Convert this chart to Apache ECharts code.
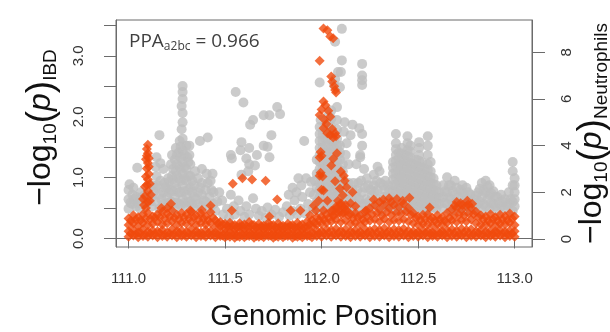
<!DOCTYPE html>
<html>
<head>
<meta charset="utf-8">
<script src="https://cdn.jsdelivr.net/npm/echarts@6/dist/echarts.min.js"></script>
<style>
  html, body { margin: 0; padding: 0; background: #fff; }
  #chart { width: 610px; height: 332px; }
</style>
</head>
<body>
<div id="chart"></div>
<script>
// tick labels
const xTicks = [111.0, 111.5, 112.0, 112.5, 113.0];
const ibdTicks = [0, 0.5, 1, 1.5, 2, 2.5, 3, 3.5];
const ibdLabels = [0, 1, 2, 3];
const neutTicks = [0, 2, 4, 6, 8];

// IBD (orange diamonds): dense band of low values, read column by column
const bandPos = [
  111.000,111.025,111.050,111.075,111.100,111.125,111.150,111.175,111.200,111.225,
  111.250,111.275,111.300,111.325,111.350,111.375,111.400,111.425,111.450,111.475,
  111.500,111.525,111.550,111.575,111.600,111.625,111.650,111.675,111.700,111.725,
  111.750,111.775,111.800,111.825,111.850,111.875,111.900,111.925,111.950,111.975,
  112.000,112.025,112.050,112.075,112.100,112.125,112.150,112.175,112.200,112.225,
  112.250,112.275,112.300,112.325,112.350,112.375,112.400,112.425,112.450,112.475,
  112.500,112.525,112.550,112.575,112.600,112.625,112.650,112.675,112.700,112.725,
  112.750,112.775,112.800,112.825,112.850,112.875,112.900,112.925,112.950,112.975,
  113.000
];
const ibdBandLow = [
  0.03,0.05,0.02,0.04,0.03,0.05,0.02,0.04,0.03,0.05,0.02,0.04,0.03,0.05,0.02,0.04,0.03,0.05,0.02,0.04,
  0.02,0.03,0.01,0.03,0.02,0.04,0.01,0.03,0.02,0.04,0.01,0.03,0.02,0.04,0.01,0.03,0.02,0.04,0.02,0.04,
  0.03,0.05,0.03,0.05,0.03,0.04,0.02,0.04,0.03,0.05,0.02,0.04,0.03,0.05,0.02,0.04,0.03,0.05,0.02,0.04,
  0.03,0.05,0.02,0.04,0.03,0.05,0.02,0.04,0.03,0.05,0.02,0.04,0.03,0.05,0.02,0.04,0.03,0.05,0.02,0.04,
  0.03
];
const ibdBandMid = [
  0.12,0.14,0.10,0.15,0.11,0.13,0.12,0.14,0.10,0.15,0.12,0.13,0.11,0.15,0.12,0.10,0.14,0.12,0.10,0.11,
  0.09,0.10,0.08,0.11,0.09,0.10,0.08,0.10,0.09,0.11,0.08,0.10,0.09,0.11,0.08,0.10,0.09,0.12,0.10,0.13,
  0.12,0.15,0.14,0.16,0.13,0.15,0.12,0.14,0.11,0.15,0.13,0.16,0.14,0.17,0.13,0.15,0.14,0.16,0.13,0.12,
  0.11,0.14,0.12,0.10,0.13,0.12,0.14,0.15,0.13,0.16,0.14,0.15,0.12,0.14,0.11,0.13,0.12,0.14,0.11,0.13,
  0.12
];
const ibdBandUpper = [
  0.22,0.25,0.20,0.26,0.22,0.24,0.27,0.23,0.25,0.28,0.22,0.26,0.24,0.27,0.22,0.25,0.23,0.26,0.19,0.20,
  0.16,0.18,0.15,0.19,0.16,0.18,0.15,0.17,0.16,0.19,0.14,0.17,0.15,0.18,0.16,0.17,0.15,0.19,0.20,0.23,
  0.24,0.26,0.28,0.30,0.27,0.29,0.24,0.26,0.23,0.27,0.29,0.31,0.28,0.32,0.27,0.30,0.29,0.31,0.28,0.25,
  0.22,0.24,0.23,0.21,0.24,0.22,0.26,0.29,0.27,0.30,0.28,0.31,0.25,0.23,0.22,0.25,0.21,0.24,0.23,0.26,
  0.22
];
const ibdBandTop = [
  0.33,0.38,0.35,0.40,0.42,0.36,0.40,0.44,0.41,0.46,0.39,0.42,0.40,0.44,0.38,0.41,0.37,0.43,0.30,0.27,
  0.24,0.26,0.22,0.25,0.23,0.27,0.22,0.24,0.21,0.26,0.22,0.25,0.21,0.24,0.22,0.26,0.23,0.28,0.30,0.35,
  0.36,0.40,0.45,0.52,0.55,0.48,0.40,0.42,0.38,0.44,0.50,0.55,0.48,0.56,0.50,0.55,0.52,0.57,0.50,0.42,
  0.36,0.39,0.40,0.34,0.38,0.35,0.42,0.48,0.50,0.47,0.53,0.50,0.44,0.38,0.36,0.40,0.35,0.39,0.37,0.41,
  0.36
];
// second, offset set of band columns
const bandPos2 = [
  111.0125,111.0375,111.0625,111.0875,111.1125,111.1375,111.1625,111.1875,111.2125,111.2375,
  111.2625,111.2875,111.3125,111.3375,111.3625,111.3875,111.4125,111.4375,111.4625,111.4875,
  111.5125,111.5375,111.5625,111.5875,111.6125,111.6375,111.6625,111.6875,111.7125,111.7375,
  111.7625,111.7875,111.8125,111.8375,111.8625,111.8875,111.9125,111.9375,111.9625,111.9875,
  112.0125,112.0375,112.0625,112.0875,112.1125,112.1375,112.1625,112.1875,112.2125,112.2375,
  112.2625,112.2875,112.3125,112.3375,112.3625,112.3875,112.4125,112.4375,112.4625,112.4875,
  112.5125,112.5375,112.5625,112.5875,112.6125,112.6375,112.6625,112.6875,112.7125,112.7375,
  112.7625,112.7875,112.8125,112.8375,112.8625,112.8875,112.9125,112.9375,112.9625,112.9875
];
const ibdFillLow = [
  0.08,0.07,0.09,0.06,0.08,0.07,0.09,0.06,0.08,0.07,0.09,0.06,0.08,0.07,0.09,0.06,0.08,0.07,0.06,0.05,
  0.05,0.06,0.04,0.06,0.05,0.06,0.04,0.05,0.06,0.05,0.04,0.06,0.05,0.06,0.04,0.05,0.06,0.05,0.07,0.08,
  0.08,0.09,0.07,0.09,0.08,0.07,0.09,0.08,0.07,0.09,0.08,0.09,0.07,0.09,0.08,0.07,0.09,0.08,0.07,0.08,
  0.07,0.09,0.08,0.06,0.08,0.07,0.09,0.08,0.07,0.09,0.08,0.07,0.09,0.06,0.08,0.07,0.09,0.08,0.07,0.08
];
const ibdFillHigh = [
  0.29,0.31,0.30,0.33,0.32,0.34,0.35,0.33,0.36,0.34,0.32,0.34,0.33,0.35,0.31,0.33,0.30,0.34,0.25,0.23,
  0.20,0.21,0.19,0.21,0.20,0.22,0.18,0.20,0.19,0.21,0.18,0.20,0.19,0.21,0.18,0.21,0.19,0.23,0.26,0.30,
  0.31,0.34,0.37,0.41,0.42,0.38,0.33,0.35,0.31,0.36,0.40,0.42,0.38,0.43,0.39,0.42,0.41,0.44,0.39,0.34,
  0.30,0.32,0.31,0.29,0.31,0.29,0.34,0.38,0.39,0.38,0.41,0.40,0.35,0.31,0.29,0.32,0.29,0.31,0.30,0.33
];
// IBD higher points
const ibdSpikes = [
  [111.09,0.5],[111.1,0.6],[111.085,0.7],[111.1,0.78],[111.095,0.88],[111.1,0.97],[111.105,1.06],
  [111.095,1.15],[111.1,1.24],[111.105,1.32],[111.1,1.4],[111.095,1.47],[111.1,1.54],[111.08,0.55],
  [111.11,0.62],[111.075,0.65],[111.115,0.72],[111.085,0.85],[111.11,0.9],[111.09,1.02],[111.105,1.18],
  [111.09,1.3],[111.095,1.36],
  [111.22,0.57],[111.2,0.5],[111.32,0.46],[111.425,0.54],[111.38,0.47],[111.17,0.5],
  [111.54,0.9],[111.59,0.99],[111.64,0.97],[111.71,0.95],[111.77,0.64],[111.535,0.46],[111.73,0.36],
  [111.84,0.46],[111.89,0.46],[111.94,0.38],[111.97,0.46],
  [112.01,3.45],[112.03,3.42],[112.045,3.32],[112.06,3.29],[111.99,2.92],
  [112.05,2.66],[112.055,2.58],[112.065,2.5],[112.07,2.44],[112.075,2.4],
  [112.01,2.25],[112.02,2.19],[112.035,2.1],[112.045,2.0],[111.99,2.03],[112.0,2.12],[112.015,1.95],
  [112.025,1.88],[112.01,1.81],[112.03,1.73],[112.045,1.7],[112.06,1.66],[112.07,1.73],[112.075,1.68],
  [112.055,1.8],[112.08,1.4],[112.0,1.36],[112.05,1.2],[111.99,1.03],[112.1,1.1],[112.115,1.03],
  [112.07,0.94],[112.01,0.79],[112.095,0.82],[112.11,0.71],[112.15,0.58],[112.01,0.46],[112.06,0.46],
  [112.03,0.62],[111.96,0.54],[112.06,1.31],[112.12,0.95],[112.13,0.84],[112.16,0.76],[112.005,1.02],
  [112.0,0.8],[111.985,0.62],[111.995,1.42],[111.99,1.33],[111.995,1.08],
  [112.085,0.62],[112.1,0.58],[112.115,0.5],[112.09,0.45],[112.105,0.4],[112.125,0.55],[112.13,0.45],
  [112.08,0.5],[112.06,0.38],
  [112.27,0.64],[112.32,0.64],[112.39,0.65],[112.455,0.67],[112.56,0.51],[112.23,0.46],[112.175,0.53],
  [112.3,0.6],[112.36,0.6],[112.42,0.62],[112.35,0.66],
  [112.69,0.54],[112.755,0.62],[112.78,0.57],[112.73,0.55],[112.72,0.58],[112.76,0.56],[112.7,0.6]
];

// Neutrophils (grey circles), by region along the chromosome
const neutLeft = [
  [111.0,1.3],[111.0,1.7],[111.0,2.1],[111.005,2.35],[111.02,1.5],[111.02,1.9],[111.025,2.2],
  [111.04,1.4],[111.04,1.8],[111.045,3.05],[111.06,1.3],[111.06,1.65],[111.065,2.0],[111.08,1.5],
  [111.085,1.9],[111.12,1.4],[111.12,1.8],[111.125,2.3],[111.14,1.6],[111.14,2.2],[111.145,2.7],
  [111.14,3.1],[111.145,3.5],[111.16,1.3],[111.16,1.9],[111.165,2.5],[111.165,3.25],[111.16,4.45],
  [111.18,1.5],[111.18,2.0],[111.185,2.4],[111.18,3.0],[111.2,1.4],[111.2,1.8],[111.2,2.2],[111.205,2.6],
  [111.22,1.6],[111.22,2.1],[111.225,2.7],[111.22,3.2],[111.225,3.6],[111.24,1.3],[111.24,1.8],
  [111.24,2.4],[111.245,2.9],[111.24,3.4],[111.245,3.9],[111.26,1.5],[111.26,2.0],[111.26,2.6],
  [111.265,3.1],[111.26,3.7],[111.265,4.2],[111.28,1.7],[111.28,2.3],[111.28,2.8],[111.28,3.3],
  [111.28,3.8],[111.28,4.3],[111.275,4.7],[111.28,5.0],[111.28,5.4],[111.275,5.7],[111.28,6.0],
  [111.28,6.3],[111.28,6.55],[111.3,1.4],[111.3,1.9],[111.3,2.5],[111.3,3.0],[111.305,3.5],[111.3,4.0],
  [111.32,1.6],[111.32,2.2],[111.32,2.7],[111.32,3.2],[111.315,3.6],[111.315,4.0],[111.34,1.3],
  [111.34,1.8],[111.34,2.3],[111.345,2.9],[111.36,1.5],[111.36,2.0],[111.36,2.6],[111.37,4.2],
  [111.38,1.4],[111.38,1.9],[111.38,2.4],[111.38,3.0],[111.4,1.6],[111.4,2.1],[111.405,2.8],
  [111.41,4.35],[111.42,1.3],[111.42,1.8],[111.425,2.5],[111.44,1.5],[111.44,2.0],[111.435,2.8],
  [111.21,1.55],[111.21,2.0],[111.21,2.45],[111.23,1.55],[111.23,2.05],[111.23,2.55],[111.23,3.0],
  [111.25,1.55],[111.25,2.15],[111.25,2.7],[111.25,3.2],[111.25,3.6],[111.27,1.45],[111.27,2.0],
  [111.27,2.5],[111.27,3.0],[111.27,3.5],[111.27,3.95],[111.29,1.55],[111.29,2.05],[111.29,2.6],
  [111.29,3.1],[111.29,3.6],[111.31,1.6],[111.31,2.1],[111.31,2.7],[111.31,3.3],[111.33,1.5],
  [111.33,2.0],[111.33,2.5],[111.01,1.55],[111.03,1.7],[111.05,1.55],[111.07,1.8],[111.11,1.6],
  [111.13,2.0],[111.15,2.3],[111.17,1.7],[111.19,2.2],[111.35,1.7],[111.37,2.2],[111.39,1.65],
  [111.41,2.4],[111.43,2.1]
];
const neutMid = [
  [111.45,1.2],[111.46,1.6],[111.47,2.0],[111.485,1.65],[111.49,1.05],[111.51,1.3],[111.52,0.9],
  [111.53,1.9],[111.545,1.4],[111.55,1.05],[111.57,1.65],[111.58,1.2],[111.6,0.95],[111.61,1.4],
  [111.625,1.05],[111.645,1.75],[111.66,1.3],[111.675,1.0],[111.69,1.2],[111.71,0.9],[111.72,1.35],
  [111.74,1.05],[111.76,1.25],[111.78,0.95],[111.8,1.15],[111.82,1.4],[111.835,1.0],[111.85,1.2],
  [111.86,1.65],[111.875,1.05],[111.89,1.3],[111.9,1.8],[111.915,1.1],[111.93,1.5],[111.94,2.0],
  [111.955,1.3],[111.83,1.9],[111.85,2.2],[111.87,2.0],
  [111.53,3.6],[111.535,3.45],[111.555,6.3],[111.595,5.85],[111.585,4.15],[111.58,3.8],[111.61,3.45],
  [111.625,3.9],[111.625,3.2],[111.655,3.15],[111.62,2.9],[111.585,2.75],[111.665,3.6],[111.63,4.9],
  [111.645,5.1],[111.7,5.3],[111.73,5.3],[111.77,5.65],[111.785,5.35],[111.74,4.45],[111.7,4.0],
  [111.72,3.95],[111.73,3.5],[111.88,2.6],[111.92,2.6],[111.91,4.2],[111.895,2.3],[111.945,2.45]
];
const neutPeak = [
  [111.96,1.3],[111.96,1.9],[111.965,2.5],[111.975,1.6],[111.975,2.2],[111.975,2.8],[111.975,3.4],
  [111.99,1.2],[111.99,1.8],[111.99,2.4],[111.99,3.0],[111.99,3.6],[111.99,4.2],[111.99,4.8],
  [111.995,5.1],[111.99,6.7],[112.005,1.5],[112.005,2.1],[112.005,2.7],[112.005,3.3],[112.005,3.9],
  [112.005,4.5],[112.02,1.3],[112.02,1.9],[112.02,2.5],[112.02,3.1],[112.02,3.7],[112.02,4.3],
  [112.02,4.9],[112.035,1.6],[112.035,2.2],[112.035,2.8],[112.035,3.4],[112.035,4.0],[112.035,4.6],
  [112.035,5.3],[112.05,1.2],[112.05,1.8],[112.05,2.4],[112.05,3.0],[112.05,3.6],[112.05,4.2],
  [112.05,4.8],[112.05,5.5],[112.065,1.5],[112.065,2.1],[112.065,2.7],[112.065,3.3],[112.065,3.9],
  [112.065,4.5],[112.065,6.6],[112.07,6.85],[112.07,8.45],[112.08,1.3],[112.08,1.9],[112.08,2.5],
  [112.08,3.1],[112.08,3.7],[112.08,4.3],[112.08,5.1],[112.08,5.65],[112.085,7.15],[112.095,1.6],
  [112.095,2.2],[112.095,2.65],[112.095,3.4],[112.095,4.0],[112.095,6.5],[112.1,7.15],[112.105,7.65],
  [112.105,9.0],[112.11,1.4],[112.11,2.0],[112.11,2.6],[112.11,3.2],[112.115,4.6],[112.12,5.0],
  [112.125,1.7],[112.125,2.3],[112.125,3.6],[112.13,4.1],[112.14,1.3],[112.14,1.9],[112.14,2.4],
  [112.14,3.2],[112.15,4.45],[112.16,4.9],[112.195,4.75],[112.21,4.5],[112.21,4.0],[112.2,3.6],
  [112.21,7.5],[112.21,7.0],[112.21,6.8],[112.21,6.6],
  [111.99,1.5],[111.99,2.1],[111.99,2.7],[111.99,3.3],[111.99,3.9],[111.99,4.5],[112.005,1.8],
  [112.005,2.4],[112.005,3.0],[112.005,3.6],[112.005,4.2],[112.02,1.6],[112.02,2.2],[112.02,2.8],
  [112.02,3.4],[112.02,4.0],[112.02,4.6],[112.035,1.9],[112.035,2.5],[112.035,3.1],[112.035,3.7],
  [112.035,4.3],[112.035,4.95],[112.05,1.5],[112.05,2.1],[112.05,2.7],[112.05,3.3],[112.05,3.9],
  [112.05,4.5],[112.05,5.15],[112.065,1.8],[112.065,2.4],[112.065,3.0],[112.065,3.6],[112.065,4.2],
  [112.08,1.6],[112.08,2.2],[112.08,2.8],[112.08,3.4],[112.08,4.0],[112.08,4.7],[112.095,1.9],
  [112.095,2.95],[112.095,3.7],[112.11,1.7],[112.11,2.3],[112.11,2.9]
];
const neutRight = [
  [112.15,1.5],[112.16,2.1],[112.17,1.2],[112.18,1.8],[112.19,2.4],[112.2,1.4],[112.21,2.0],
  [112.22,1.1],[112.23,1.7],[112.24,2.3],[112.25,1.3],[112.26,1.9],[112.27,2.3],[112.28,1.5],
  [112.29,2.1],[112.3,2.9],[112.31,1.2],[112.32,1.8],[112.33,2.5],[112.34,1.4],[112.35,2.1],
  [112.36,1.7],[112.18,3.2],[112.2,3.5],[112.22,3.0],[112.27,2.75],[112.29,3.1],[112.32,2.3],
  [112.155,1.8],[112.165,2.4],[112.175,1.5],[112.185,2.1],[112.195,1.7],[112.205,2.5],[112.215,1.5],
  [112.225,2.2],[112.235,2.6],[112.245,1.6],[112.255,2.1],[112.265,1.5],[112.275,2.0],[112.285,2.5],
  [112.295,1.7],[112.305,2.4],[112.315,1.6],[112.325,2.1],[112.335,1.8],[112.345,2.3],[112.355,1.5],
  [112.37,1.3],[112.37,1.8],[112.37,2.3],[112.37,2.8],[112.37,3.3],
  [112.385,1.5],[112.385,2.0],[112.385,2.6],[112.385,3.1],[112.385,3.6],[112.385,4.1],[112.385,4.5],
  [112.4,1.2],[112.4,1.7],[112.4,2.2],[112.4,2.7],[112.4,3.2],[112.4,3.7],
  [112.415,1.4],[112.415,1.9],[112.415,2.4],[112.415,2.9],[112.415,3.4],[112.415,3.9],
  [112.43,1.6],[112.43,2.1],[112.43,2.6],[112.43,3.1],[112.43,3.6],
  [112.445,1.3],[112.445,1.8],[112.445,2.3],[112.445,2.8],[112.445,3.3],[112.445,3.8],[112.445,4.4],
  [112.46,1.5],[112.46,2.0],[112.46,2.5],[112.46,3.0],[112.46,3.5],[112.46,4.0],
  [112.475,1.2],[112.475,1.7],[112.475,2.2],[112.475,2.7],[112.475,3.2],
  [112.49,1.4],[112.49,1.9],[112.49,2.4],[112.49,2.9],[112.49,3.4],
  [112.505,1.6],[112.505,2.1],[112.505,2.6],[112.505,3.1],[112.505,3.6],[112.505,4.15],
  [112.52,1.3],[112.52,1.8],[112.52,2.3],[112.52,2.8],[112.52,3.3],
  [112.535,1.5],[112.535,2.0],[112.535,2.5],[112.535,3.0],
  [112.55,1.2],[112.55,1.7],[112.55,2.2],[112.55,2.7],[112.55,3.2],[112.55,3.6],[112.55,4.0],[112.55,4.4],
  [112.565,1.4],[112.565,1.9],[112.565,2.4],[112.565,2.9],[112.565,3.3],
  [112.58,1.6],[112.58,2.1],[112.58,2.6],[112.595,1.3],[112.595,1.8],[112.595,2.3],[112.61,1.5],[112.61,2.0],
  [112.37,1.55],[112.37,2.05],[112.37,2.55],[112.37,3.05],[112.385,1.75],[112.385,2.3],[112.385,2.85],
  [112.385,3.35],[112.385,3.85],[112.4,1.45],[112.4,1.95],[112.4,2.45],[112.4,2.95],[112.4,3.45],
  [112.415,1.65],[112.415,2.15],[112.415,2.65],[112.415,3.15],[112.415,3.65],[112.43,1.35],[112.43,1.85],
  [112.43,2.35],[112.43,2.85],[112.43,3.35],[112.445,1.55],[112.445,2.05],[112.445,2.55],[112.445,3.05],
  [112.445,3.55],[112.445,4.1],[112.46,1.75],[112.46,2.25],[112.46,2.75],[112.46,3.25],[112.46,3.75],
  [112.475,1.45],[112.475,1.95],[112.475,2.45],[112.475,2.95],[112.49,1.65],[112.49,2.15],[112.49,2.65],
  [112.49,3.15],[112.505,1.35],[112.505,1.85],[112.505,2.35],[112.505,2.85],[112.505,3.35],[112.505,3.9],
  [112.52,1.55],[112.52,2.05],[112.52,2.55],[112.52,3.05],[112.535,1.25],[112.535,1.75],[112.535,2.25],
  [112.535,2.75],[112.55,1.45],[112.55,1.95],[112.55,2.45],[112.55,2.95],[112.565,1.65],[112.565,2.15],
  [112.565,2.65],[112.58,1.35],[112.58,1.85],[112.58,2.35],[112.595,1.55],[112.595,2.05],[112.61,1.75]
];
const neutFar = [
  [112.63,1.3],[112.63,1.8],[112.63,2.3],[112.65,1.5],[112.65,2.0],[112.65,2.65],[112.67,1.2],
  [112.67,1.7],[112.67,2.3],[112.69,1.4],[112.69,1.9],[112.69,2.5],[112.71,1.3],[112.71,1.8],
  [112.73,1.5],[112.73,2.0],[112.73,2.3],[112.75,1.2],[112.75,1.7],[112.75,2.2],[112.77,1.4],
  [112.77,1.9],[112.79,1.3],[112.79,1.7],[112.81,1.5],[112.81,2.0],[112.83,1.2],[112.83,1.8],
  [112.83,2.4],[112.85,1.4],[112.85,2.0],[112.85,2.5],[112.87,1.3],[112.87,1.9],[112.87,2.3],
  [112.89,1.5],[112.89,2.05],[112.91,1.2],[112.91,1.8],[112.93,1.4],[112.93,1.9],[112.95,1.3],
  [112.95,1.7],[112.97,1.5],[112.97,2.0],[112.99,1.2],[112.99,1.6],[112.99,2.3],[112.99,2.9],
  [112.99,3.3],[113.0,1.4],[113.0,2.0],[113.0,2.6],
  [112.64,1.55],[112.64,2.05],[112.66,1.75],[112.66,2.3],[112.68,1.5],[112.68,2.05],[112.7,1.6],
  [112.7,2.2],[112.72,1.55],[112.72,2.1],[112.74,1.4],[112.74,1.9],[112.76,1.5],[112.76,2.0],
  [112.78,1.6],[112.8,1.4],[112.8,1.85],[112.82,1.6],[112.82,2.15],[112.84,1.5],[112.84,2.1],
  [112.86,1.7],[112.86,2.25],[112.88,1.55],[112.88,1.95],[112.9,1.4],[112.9,1.8],[112.92,1.55],
  [112.94,1.6],[112.96,1.45],[112.98,1.7],[113.0,1.7],[113.0,2.3]
];

const ORANGE = '#F04A0C';
const GREY = '#BEBEBE';
const AXIS = '#6b6b6b';
const FONT = 'Liberation Sans';

const ibdData = []
  .concat(bandPos.map((p, i) => [p, ibdBandLow[i]]))
  .concat(bandPos.map((p, i) => [p, ibdBandMid[i]]))
  .concat(bandPos.map((p, i) => [p, ibdBandUpper[i]]))
  .concat(bandPos2.map((p, i) => [p, ibdFillLow[i]]))
  .concat(bandPos2.map((p, i) => [p, ibdFillHigh[i]]))
  .concat(bandPos.map((p, i) => [p, ibdBandTop[i]]))
  .concat(ibdSpikes);
const neutData = [].concat(neutLeft, neutMid, neutPeak, neutRight, neutFar);

const nameRich = {
  m: { fontSize: 32, fontFamily: FONT, color: '#111' },
  p: { fontSize: 37, fontFamily: FONT, color: '#111' },
  i: { fontSize: 32, fontFamily: FONT, fontStyle: 'italic', color: '#111' },
  s: { fontSize: 19, fontFamily: FONT, color: '#111', verticalAlign: 'bottom' }
};

const myChart = echarts.init(document.getElementById('chart'), null, { renderer: 'canvas' });

const option = {
  animation: false,
  backgroundColor: '#fff',
  title: {
    text: '{a|PPA}{b|a2bc}{a| = 0.966}',
    left: 124,
    top: 27,
    textStyle: {
      fontWeight: 'normal',
      rich: {
        a: { fontSize: 19, fontFamily: 'Open Sans', fontWeight: 'normal', color: '#404040' },
        b: { fontSize: 12, fontFamily: 'Open Sans', fontWeight: 'normal', color: '#404040', verticalAlign: 'bottom', padding: [0, 0, -2, 0] }
      }
    }
  },
  grid: {
    left: 116, right: 78, top: 20, bottom: 85,
    outerBoundsMode: 'none',
    show: true, borderColor: AXIS, borderWidth: 1
  },
  xAxis: {
    type: 'value',
    min: 110.935,
    max: 113.09,
    splitLine: { show: false },
    axisLine: { show: true, lineStyle: { color: AXIS } },
    axisTick: { show: true, customValues: xTicks, length: 10, lineStyle: { color: AXIS } },
    axisLabel: {
      customValues: xTicks,
      formatter: v => v.toFixed(1),
      fontSize: 15, fontFamily: FONT, color: '#333', margin: 24
    },
    name: 'Genomic Position',
    nameLocation: 'middle',
    nameMoveOverlap: false,
    nameGap: 55,
    nameTextStyle: { fontSize: 29, fontFamily: FONT, color: '#111' }
  },
  yAxis: [
    {
      type: 'value',
      position: 'left',
      min: -0.14,
      max: 3.59,
      splitLine: { show: false },
      axisLine: { show: true, lineStyle: { color: AXIS } },
      axisTick: { show: true, customValues: ibdTicks, length: 12, lineStyle: { color: AXIS } },
      axisLabel: {
        customValues: ibdLabels,
        formatter: v => v.toFixed(1),
        rotate: 90,
        fontSize: 15, fontFamily: FONT, color: '#333', margin: 30
      },
      name: '{m|−log}{s|10}{p|(}{i|p}{p|)}{s|IBD}',
      nameLocation: 'middle',
      nameRotate: 90,
      nameMoveOverlap: false,
      nameGap: 56,
      nameTextStyle: { rich: nameRich, padding: [0, 0, 0, 12] }
    },
    {
      type: 'value',
      position: 'right',
      min: -0.34,
      max: 9.38,
      splitLine: { show: false },
      axisLine: { show: true, lineStyle: { color: AXIS } },
      axisTick: { show: true, customValues: neutTicks, length: 13, lineStyle: { color: AXIS } },
      axisLabel: {
        customValues: neutTicks,
        rotate: 90,
        fontSize: 15, fontFamily: FONT, color: '#333', margin: 27
      },
      name: '{m|−log}{s|10}{p|(}{i|p}{p|)}{s|Neutrophils}',
      nameLocation: 'middle',
      nameRotate: 90,
      nameMoveOverlap: false,
      nameGap: 42,
      nameTextStyle: { rich: nameRich }
    }
  ],
  series: [
    {
      name: 'Neutrophils',
      type: 'scatter',
      yAxisIndex: 1,
      symbol: 'circle',
      symbolSize: 10,
      itemStyle: { color: GREY },
      data: neutData
    },
    {
      name: 'IBD',
      type: 'scatter',
      yAxisIndex: 0,
      symbol: 'diamond',
      symbolSize: 10,
      itemStyle: { color: ORANGE },
      data: ibdData
    }
  ]
};

myChart.setOption(option);
</script>
</body>
</html>
